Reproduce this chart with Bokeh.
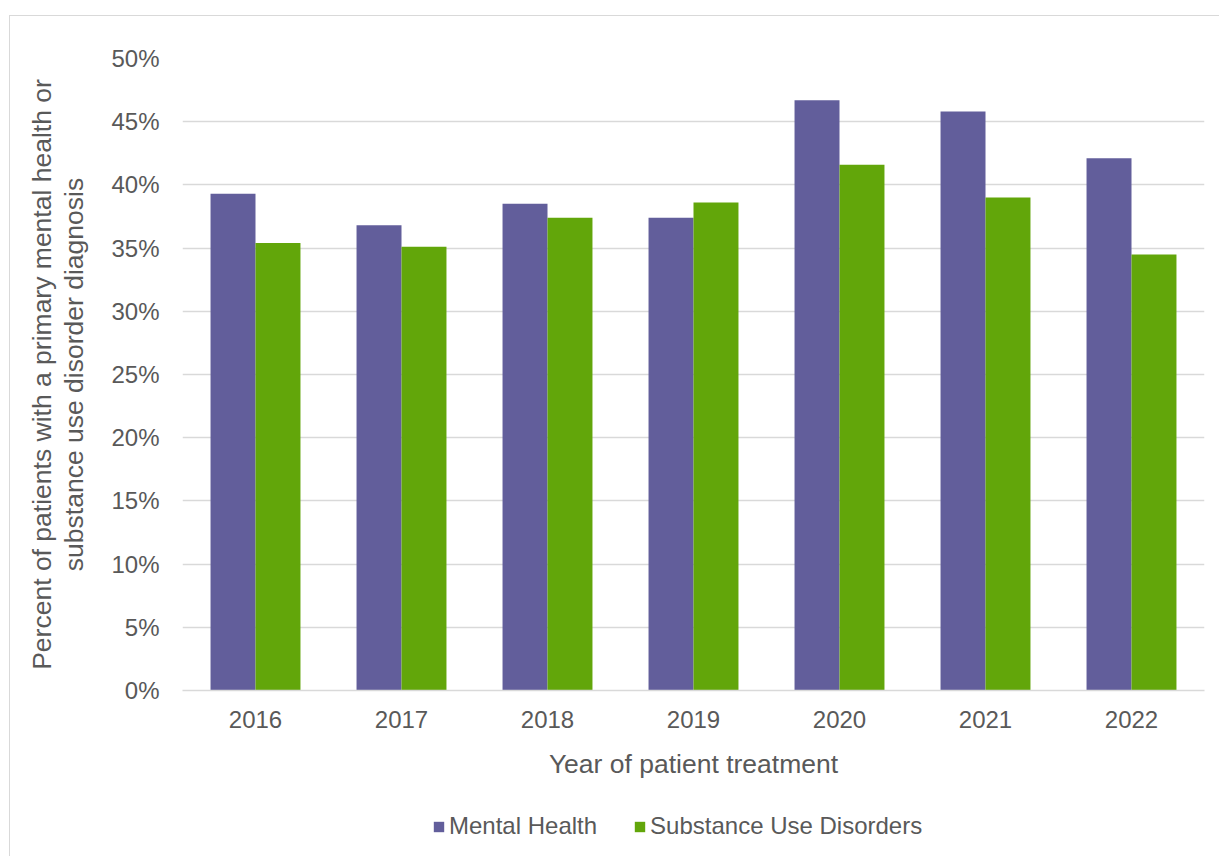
from bokeh.plotting import figure
from bokeh.layouts import column
from bokeh.models import ColumnDataSource, FactorRange, Range1d, Legend, LegendItem, NumeralTickFormatter, FixedTicker
from bokeh.transform import dodge
from bokeh.embed import file_html
from bokeh.resources import INLINE

years = ["2016", "2017", "2018", "2019", "2020", "2021", "2022"]
mental_health = [0.393, 0.368, 0.385, 0.374, 0.467, 0.458, 0.421]
substance_use = [0.354, 0.351, 0.374, 0.386, 0.416, 0.390, 0.345]
y_ticks = [0, 0.05, 0.10, 0.15, 0.20, 0.25, 0.30, 0.35, 0.40, 0.45, 0.50]

MH_COLOR = "#625E9B"
SUD_COLOR = "#62A60A"
TEXT = "#595959"
FONT = "Liberation Sans"

src = ColumnDataSource(dict(year=years, mh=mental_health, sud=substance_use))

p = figure(width=1209, height=765, x_range=FactorRange(*years, range_padding=0),
           y_range=Range1d(0, 0.5), output_backend="svg", toolbar_location=None,
           min_border_left=172, min_border_right=15, min_border_top=42, min_border_bottom=90)
p.outline_line_color = None
p.background_fill_color = "white"
p.border_fill_color = "white"

r1 = p.vbar(x=dodge("year", -0.154, range=p.x_range), top="mh", width=0.308, source=src,
            fill_color=MH_COLOR, line_color=None)
r2 = p.vbar(x=dodge("year", 0.154, range=p.x_range), top="sud", width=0.308, source=src,
            fill_color=SUD_COLOR, line_color=None)

p.yaxis.ticker = FixedTicker(ticks=y_ticks)
p.yaxis.formatter = NumeralTickFormatter(format="0%")
p.yaxis.axis_line_color = None
p.yaxis.major_tick_line_color = None
p.yaxis.minor_tick_line_color = None
p.yaxis.major_label_text_font = FONT
p.yaxis.major_label_text_font_size = "24px"
p.yaxis.major_label_text_color = TEXT
p.yaxis.major_label_standoff = 17
p.yaxis.axis_label = "Percent of patients with a primary mental health or\nsubstance use disorder diagnosis"
p.yaxis.axis_label_text_font = FONT
p.yaxis.axis_label_text_font_size = "26.5px"
p.yaxis.axis_label_text_font_style = "normal"
p.yaxis.axis_label_text_color = TEXT
p.yaxis.axis_label_text_line_height = 1.08
p.yaxis.axis_label_standoff = 19

p.xaxis.axis_line_color = "#d9d9d9"
p.xaxis.axis_line_width = 1.5
p.xaxis.major_tick_line_color = None
p.xaxis.minor_tick_line_color = None
p.xaxis.major_label_text_font = FONT
p.xaxis.major_label_text_font_size = "24px"
p.xaxis.major_label_text_color = TEXT
p.xaxis.major_label_standoff = 14
p.xaxis.axis_label = "Year of patient treatment"
p.xaxis.axis_label_text_font = FONT
p.xaxis.axis_label_text_font_size = "26.5px"
p.xaxis.axis_label_text_font_style = "normal"
p.xaxis.axis_label_text_color = TEXT
p.xaxis.axis_label_standoff = 18

p.xgrid.grid_line_color = None
p.ygrid.grid_line_color = "#d9d9d9"
p.ygrid.grid_line_width = 1.5

# legend strip below the chart (its bars sit outside its visible range)
lf = figure(width=1209, height=75, x_range=FactorRange(*years), y_range=Range1d(10, 11),
            output_backend="svg", toolbar_location=None,
            min_border_left=0, min_border_right=0, min_border_top=0, min_border_bottom=0)
lf.axis.visible = False
lf.grid.visible = False
lf.outline_line_color = None
lf.background_fill_color = "white"
lf.border_fill_color = "white"
l1 = lf.vbar(x="year", top="mh", width=0.3, source=src, fill_color=MH_COLOR, line_color=None)
l2 = lf.vbar(x="year", top="sud", width=0.3, source=src, fill_color=SUD_COLOR, line_color=None)

legend = Legend(items=[LegendItem(label="Mental Health", renderers=[l1]),
                       LegendItem(label="Substance Use Disorders", renderers=[l2])],
                orientation="horizontal", location=(250, 16))
legend.label_text_font = FONT
legend.label_text_font_size = "24px"
legend.label_text_color = TEXT
legend.glyph_width = 13
legend.glyph_height = 13
legend.label_standoff = 4
legend.spacing = 36
legend.border_line_color = None
legend.background_fill_alpha = 0
legend.margin = 0
legend.padding = 0
lf.add_layout(legend)

layout = column(p, lf, spacing=0, margin=(16, 0, 0, 10),
                styles={"outline": "1px solid #D9D9D9"})

open("out.html", "w").write(file_html(layout, INLINE))
